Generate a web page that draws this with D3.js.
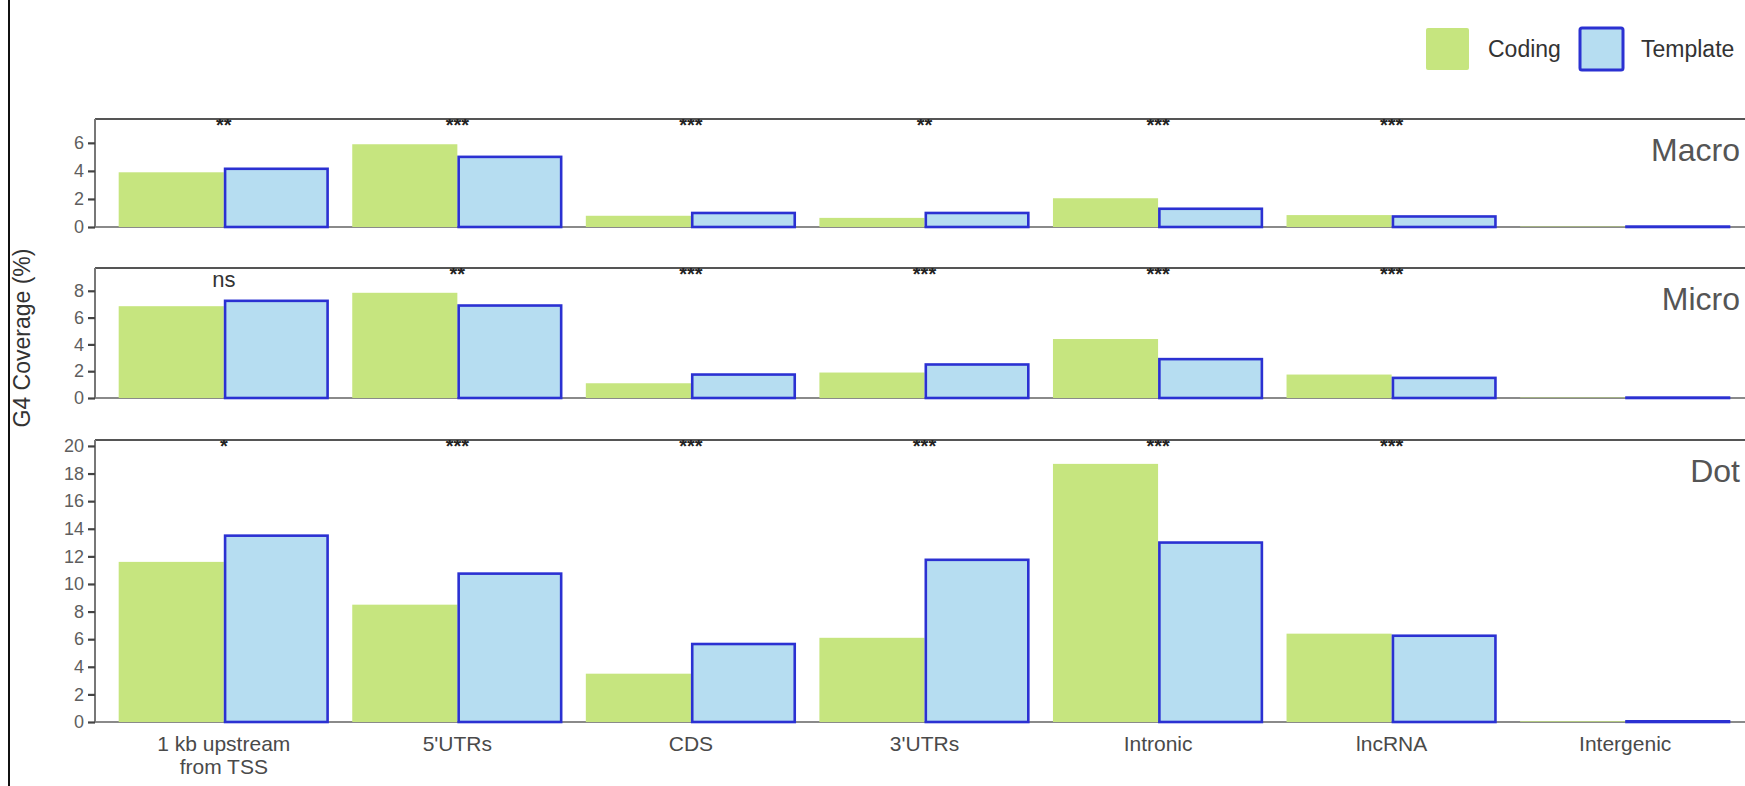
<!DOCTYPE html>
<html>
<head>
<meta charset="utf-8">
<script src="https://cdn.jsdelivr.net/npm/d3@7"></script>
<style>
  html, body { margin: 0; padding: 0; background: #fff; }
  svg { display: block; font-family: "Liberation Sans", Arial, Helvetica, sans-serif; }
</style>
</head>
<body>
<svg id="chart" width="1745" height="786"></svg>
<script>
// ---------------- data ----------------
const categories = ["1 kb upstream\nfrom TSS", "5'UTRs", "CDS", "3'UTRs", "Intronic", "lncRNA", "Intergenic"];
const strands = ["Coding", "Template"];
const panelNames = ["Macro", "Micro", "Dot"];

const macroCoding   = [3.9, 5.9, 0.8, 0.65, 2.05, 0.85, 0.03];
const macroTemplate = [4.15, 5.0, 1.0, 1.0, 1.3, 0.75, 0.03];
const microCoding   = [6.85, 7.85, 1.1, 1.9, 4.4, 1.75, 0.03];
const microTemplate = [7.25, 6.9, 1.75, 2.5, 2.9, 1.5, 0.03];
const dotCoding     = [11.6, 8.5, 3.5, 6.1, 18.7, 6.4, 0.05];
const dotTemplate   = [13.5, 10.75, 5.65, 11.75, 13.0, 6.25, 0.05];

const macroSig = ["**", "***", "***", "**", "***", "***", ""];
const microSig = ["ns", "**", "***", "***", "***", "***", ""];
const dotSig   = ["*", "***", "***", "***", "***", "***", ""];

const macroTicks = [0, 2, 4, 6];
const microTicks = [0, 2, 4, 6, 8];
const dotTicks   = [0, 2, 4, 6, 8, 10, 12, 14, 16, 18, 20];

const yTitle = "G4 Coverage (%)";

// ---------------- layout ----------------
const svg = d3.select("#chart");
const W = 1745;
const axisX = 95;
const colors = { Coding: "#c6e57f", Template: "#b6ddf1" };
const blueStroke = "#2b31d2";

const panels = [
  { name: panelNames[0], coding: macroCoding, template: macroTemplate, sig: macroSig, ticks: macroTicks, top: 119, zero: 227, max: 7.7 },
  { name: panelNames[1], coding: microCoding, template: microTemplate, sig: microSig, ticks: microTicks, top: 268, zero: 398, max: 9.7 },
  { name: panelNames[2], coding: dotCoding,   template: dotTemplate,   sig: dotSig,   ticks: dotTicks,   top: 440, zero: 722, max: 20.43 }
];

const x = d3.scaleBand().domain(categories).range([107, 1742]).padding(0);
const xs = d3.scaleBand().domain(strands).range([x.bandwidth() * 0.05, x.bandwidth() * 0.95]).padding(0);

// left frame line
svg.append("line").attr("x1", 9).attr("x2", 9).attr("y1", 0).attr("y2", 786)
  .attr("stroke", "#111").attr("stroke-width", 2);

const defs = svg.append("defs");

panels.forEach((p, pi) => {
  const y = d3.scaleLinear().domain([0, p.max]).range([p.zero, p.top]);
  const g = svg.append("g");

  defs.append("clipPath").attr("id", "clip" + pi)
    .append("rect").attr("x", axisX).attr("y", p.top).attr("width", W - axisX).attr("height", p.zero - p.top + 4);

  // baseline (x axis line)
  g.append("line").attr("x1", axisX).attr("x2", W).attr("y1", p.zero).attr("y2", p.zero)
    .attr("stroke", "#8a8a8a").attr("stroke-width", 2);

  const rows = categories.map((c, i) => ({ cat: c, i, Coding: p.coding[i], Template: p.template[i] }));

  const grp = g.selectAll("g.cat").data(rows).join("g")
    .attr("transform", d => `translate(${x(d.cat)},0)`);

  grp.append("rect")
    .attr("x", xs("Coding")).attr("width", xs.bandwidth())
    .attr("y", d => y(d.Coding)).attr("height", d => y(0) - y(d.Coding))
    .attr("fill", colors.Coding);

  grp.append("rect")
    .attr("x", xs("Template") + 1.3).attr("width", xs.bandwidth() - 2.6)
    .attr("y", d => y(d.Template)).attr("height", d => Math.max(0, y(0) - y(d.Template)))
    .attr("fill", colors.Template).attr("stroke", blueStroke).attr("stroke-width", 2.6);

  // y axis
  const ax = d3.axisLeft(y).tickValues(p.ticks).tickSize(7).tickPadding(4).tickFormat(d3.format("d"));
  const axG = svg.append("g").attr("transform", `translate(${axisX},0)`).call(ax);
  axG.select(".domain").attr("stroke", "#777").attr("stroke-width", 2)
    .attr("d", `M0,${p.zero}V${p.top}`);
  axG.selectAll(".tick line").attr("stroke", "#444").attr("stroke-width", 2.2);
  axG.selectAll(".tick text").attr("fill", "#5e5e5e").attr("font-size", 18)
    .attr("font-family", "Liberation Sans, Arial, sans-serif");

  // top border
  g.append("line").attr("x1", axisX).attr("x2", W).attr("y1", p.top).attr("y2", p.top)
    .attr("stroke", "#555").attr("stroke-width", 2);

  // significance labels
  const sg = svg.append("g").attr("clip-path", `url(#clip${pi})`);
  sg.selectAll("text").data(rows.filter(d => p.sig[d.i] && p.sig[d.i] !== "ns")).join("text")
    .attr("x", d => x(d.cat) + x.bandwidth() / 2)
    .attr("y", p.top + 13)
    .attr("text-anchor", "middle")
    .attr("font-size", 20).attr("font-weight", "bold").attr("fill", "#222")
    .text(d => p.sig[d.i]);
  svg.selectAll(null).data(rows.filter(d => p.sig[d.i] === "ns")).join("text")
    .attr("x", d => x(d.cat) + x.bandwidth() / 2)
    .attr("y", p.top + 19)
    .attr("text-anchor", "middle")
    .attr("font-size", 22).attr("fill", "#333")
    .text(d => p.sig[d.i]);

  // panel label
  svg.append("text").attr("x", 1740).attr("y", p.top + 42)
    .attr("text-anchor", "end").attr("font-size", 32).attr("fill", "#555")
    .text(p.name);
});

// x labels (under bottom panel)
const bottom = panels[2].zero;
categories.forEach(c => {
  const lines = c.split("\n");
  const t = svg.append("text").attr("x", x(c) + x.bandwidth() / 2).attr("y", bottom + 29)
    .attr("text-anchor", "middle").attr("font-size", 21).attr("fill", "#4a4a4a");
  lines.forEach((ln, k) => {
    t.append("tspan").attr("x", x(c) + x.bandwidth() / 2).attr("dy", k === 0 ? 0 : 23).text(ln);
  });
});

// y title
svg.append("text")
  .attr("transform", "translate(30,338) rotate(-90)")
  .attr("text-anchor", "middle").attr("font-size", 23).attr("fill", "#333")
  .text(yTitle);

// legend
const leg = svg.append("g");
const legItems = [
  { key: "Coding", x: 1426, tx: 1488 },
  { key: "Template", x: 1580, tx: 1641 }
];
legItems.forEach(it => {
  const r = leg.append("rect").attr("x", it.x).attr("y", 28).attr("width", 43).attr("height", 42)
    .attr("fill", colors[it.key]).attr("rx", 2);
  if (it.key === "Template") r.attr("stroke", blueStroke).attr("stroke-width", 3);
  leg.append("text").attr("x", it.tx).attr("y", 57).attr("font-size", 23).attr("fill", "#333").text(it.key);
});
</script>
</body>
</html>
